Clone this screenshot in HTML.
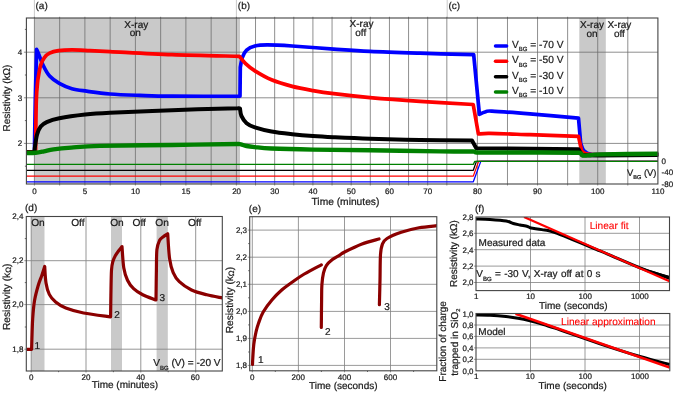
<!DOCTYPE html>
<html><head><meta charset="utf-8"><title>Figure</title>
<style>html,body{margin:0;padding:0;background:#fff}svg{display:block}text{stroke:#1a1a1a}text[fill]{stroke:#ff0000;stroke-width:.1px}</style></head>
<body>
<svg width="675" height="393" viewBox="0 0 675 393" font-family="Liberation Sans, Arial, sans-serif" font-size="10" fill="#1a1a1a" text-rendering="geometricPrecision" stroke-width=".22">
<rect width="675" height="393" fill="#fff"/>
<rect x="34.4" y="18" width="205.6" height="166" fill="#c9c9c9"/>
<rect x="579.3" y="18" width="26.5" height="166" fill="#c9c9c9"/>
<line x1="34.4" y1="0" x2="34.4" y2="18" stroke="#bbb" stroke-width=".8"/>
<line x1="236.4" y1="0" x2="236.4" y2="18" stroke="#bbb" stroke-width=".8"/>
<line x1="447.2" y1="0" x2="447.2" y2="18" stroke="#bbb" stroke-width=".8"/>
<path d="M34.40 16.8V185.5M59.65 16.8V185.5M84.90 16.8V185.5M110.15 16.8V185.5M135.40 16.8V185.5M160.65 16.8V185.5M185.90 16.8V185.5M211.15 16.8V185.5M236.40 16.8V185.5M255.53 16.8V185.5M274.66 16.8V185.5M293.79 16.8V185.5M312.92 16.8V185.5M332.05 16.8V185.5M351.18 16.8V185.5M370.31 16.8V185.5M389.44 16.8V185.5M408.57 16.8V185.5M427.70 16.8V185.5M446.83 16.8V185.5M477.40 16.8V185.5M507.48 16.8V185.5M537.56 16.8V185.5M567.64 16.8V185.5M597.72 16.8V185.5M627.80 16.8V185.5" stroke="#6a6a6a" stroke-width=".75" fill="none"/>
<path d="M23.9 52.2H657.9M23.9 97.8H657.9M23.9 143.4H657.9" stroke="#6a6a6a" stroke-width=".75" fill="none"/>
<path d="M24.9 29.4H26.4M24.9 75H26.4M24.9 120.6H26.4M24.9 166.2H26.4" stroke="#444" stroke-width=".8" fill="none"/>
<clipPath id="ct"><rect x="26.4" y="18" width="631.9" height="166"/></clipPath>
<g clip-path="url(#ct)" fill="none" stroke-linejoin="round" stroke-linecap="round">
<path transform="translate(0,0.4)" d="M26.40 152.00L34.30 152.00L34.40 152.00C34.55 143.33 34.93 117.17 35.30 100.00C35.67 82.83 36.38 57.50 36.60 49.00L36.60 49.00C36.93 49.75 37.53 50.90 38.60 53.50C39.67 56.10 41.17 60.90 43.00 64.60C44.83 68.30 46.88 72.63 49.60 75.70C52.32 78.77 55.58 80.90 59.30 83.00C63.02 85.10 67.33 87.00 71.90 88.30C76.47 89.60 80.35 89.92 86.70 90.80C93.05 91.68 101.12 92.90 110.00 93.60C118.88 94.30 129.67 94.63 140.00 95.00C150.33 95.37 155.35 95.67 172.00 95.80C188.65 95.93 228.58 95.80 239.90 95.80L240.00 95.80L240.30 67.00L240.30 67.00C240.65 65.33 241.35 59.88 242.40 57.00C243.45 54.12 244.52 51.60 246.60 49.70C248.68 47.80 251.45 46.47 254.90 45.60C258.35 44.73 261.08 44.50 267.30 44.50C273.52 44.50 281.13 44.90 292.20 45.60C303.27 46.30 320.73 47.80 333.70 48.70C346.67 49.60 355.62 50.32 370.00 51.00C384.38 51.68 402.73 52.25 420.00 52.80C437.27 53.35 464.67 54.05 473.60 54.30L473.70 54.30L479.40 113.90L479.40 113.90C480.33 113.52 482.92 112.13 485.00 111.60C487.08 111.07 485.00 110.38 491.90 110.70C499.40 111.02 515.57 112.32 530.00 113.50C544.43 114.68 570.42 117.08 578.50 117.80L578.50 117.80L580.70 143.00L580.70 143.00C581.08 144.00 582.12 147.50 583.00 149.00C583.88 150.50 584.90 151.25 586.00 152.00C587.10 152.75 587.27 153.12 589.60 153.50C591.93 153.88 589.60 154.22 600.00 154.30C611.38 154.38 648.25 154.05 657.90 154.00" stroke="#0000ff" stroke-width="3.7"/>
<path transform="translate(0,0.4)" d="M26.40 151.50L35.50 151.50L35.60 151.50C35.72 142.92 35.93 112.02 36.30 100.00C36.67 87.98 37.55 82.83 37.80 79.40L37.80 79.40C38.28 76.93 39.60 68.30 40.70 64.60C41.80 60.90 42.92 59.17 44.40 57.20C45.88 55.23 47.25 53.95 49.60 52.80C51.95 51.65 54.78 50.85 58.50 50.30C62.22 49.75 66.65 49.52 71.90 49.50C77.15 49.48 83.65 49.92 90.00 50.20C96.35 50.48 96.33 50.52 110.00 51.20C123.67 51.88 150.50 53.52 172.00 54.30C193.50 55.08 227.83 55.63 239.00 55.90L239.30 55.90C240.35 57.12 243.00 60.77 245.60 63.20C248.20 65.63 250.58 67.80 254.90 70.50C259.22 73.20 265.28 76.82 271.50 79.40C277.72 81.98 285.28 84.20 292.20 86.00C299.12 87.80 306.08 88.98 313.00 90.20C319.92 91.42 324.20 92.13 333.70 93.30C343.20 94.47 355.62 95.92 370.00 97.20C384.38 98.48 402.80 99.85 420.00 101.00C437.20 102.15 464.33 103.58 473.20 104.10L473.20 104.10L478.40 133.60L478.40 133.60C480.33 133.50 481.40 132.88 490.00 133.00C498.60 133.12 515.25 133.80 530.00 134.30C544.75 134.80 570.42 135.72 578.50 136.00L578.50 136.00L581.50 150.00L581.50 150.00C581.92 150.42 582.92 151.87 584.00 152.50C585.08 153.13 585.33 153.50 588.00 153.80C590.67 154.10 588.35 154.27 600.00 154.30C611.65 154.33 648.25 154.05 657.90 154.00" stroke="#ff0000" stroke-width="3.7"/>
<path transform="translate(0,0.2)" d="M26.40 152.00L34.50 152.00L34.50 152.00C34.55 151.30 34.50 150.73 34.80 147.80C35.22 144.87 36.02 137.98 37.00 134.40C37.98 130.82 39.08 128.38 40.70 126.30C42.32 124.22 43.60 123.27 46.70 121.90C49.80 120.53 52.88 119.35 59.30 118.10C65.72 116.85 76.75 115.32 85.20 114.40C93.65 113.48 95.53 113.33 110.00 112.60C124.47 111.87 150.67 110.77 172.00 110.00C193.33 109.23 226.67 108.28 238.00 108.00C240.00 107.72 239.67 108.25 240.00 108.30L240.00 108.30C240.23 109.53 240.30 113.25 241.40 115.70C242.50 118.15 244.35 121.08 246.60 123.00C248.85 124.92 250.75 125.82 254.90 127.20C259.05 128.58 265.28 130.17 271.50 131.30C277.72 132.43 285.28 133.23 292.20 134.00C299.12 134.77 306.08 135.38 313.00 135.90C319.92 136.42 324.20 136.65 333.70 137.10C343.20 137.55 355.62 138.15 370.00 138.60C384.38 139.05 403.00 139.50 420.00 139.80C437.00 140.10 463.33 140.30 472.00 140.40L472.00 140.40L476.30 148.00L476.30 148.00L578.50 149.00L578.50 149.00L582.00 155.00L582.00 155.00C585.00 155.03 587.35 155.22 600.00 155.20C612.65 155.18 648.25 154.95 657.90 154.90" stroke="#000" stroke-width="4"/>
<path transform="translate(0,0.2)" d="M26.40 152.80C27.93 152.77 32.67 152.87 35.60 152.60C38.53 152.33 41.02 151.77 44.00 151.20C46.98 150.63 48.95 149.83 53.50 149.20C58.05 148.57 63.55 147.98 71.30 147.40C79.05 146.82 83.22 146.13 100.00 145.70C116.78 145.27 149.00 145.12 172.00 144.80C195.00 144.48 226.50 143.90 238.00 143.80C241.00 143.70 239.57 143.87 241.00 144.20C242.43 144.53 244.28 145.35 246.60 145.80C248.92 146.25 250.75 146.48 254.90 146.90C259.05 147.32 261.82 147.88 271.50 148.30C281.18 148.72 296.58 149.12 313.00 149.40C329.42 149.68 348.83 149.70 370.00 150.00C391.17 150.30 422.83 150.98 440.00 151.20C457.17 151.42 466.83 151.12 473.00 151.30C477.00 151.48 473.00 152.10 477.00 152.30C494.58 152.50 560.83 152.00 578.50 152.50C583.00 153.00 581.08 154.88 583.00 155.30C584.92 155.72 587.17 155.18 590.00 155.00C592.83 154.82 590.00 154.43 600.00 154.20C611.32 153.97 648.25 153.70 657.90 153.60" stroke="#008000" stroke-width="4.4"/>
<path d="M26.4 181.8H473.3L480.8 161.4H657.9" stroke="#0000ff" stroke-width="1.3" stroke-linecap="butt"/>
<path d="M26.4 176.1H473.3L478.6 161.4H657.9" stroke="#ff0000" stroke-width="1.3" stroke-linecap="butt"/>
<path d="M26.4 170.3H473.3L476.4 161.4H657.9" stroke="#000" stroke-width="1.3" stroke-linecap="butt"/>
<path d="M26.4 164.4H473.3L474.8 161.4H657.9" stroke="#008000" stroke-width="1.3" stroke-linecap="butt"/>
</g>
<rect x="26.4" y="18" width="631.5" height="166" fill="none" stroke="#444" stroke-width="1.1"/>
<line x1="495.5" y1="46" x2="506.6" y2="46" stroke="#0000ff" stroke-width="3.5" stroke-linecap="round"/>
<text x="512" y="47.9" font-size="10.2" xml:space="preserve">V<tspan font-size="6" dy="3.4">BG</tspan><tspan dy="-3.4"> = -70 V</tspan></text>
<line x1="495.5" y1="61.3" x2="506.6" y2="61.3" stroke="#ff0000" stroke-width="3.5" stroke-linecap="round"/>
<text x="512" y="63.2" font-size="10.2" xml:space="preserve">V<tspan font-size="6" dy="3.4">BG</tspan><tspan dy="-3.4"> = -50 V</tspan></text>
<line x1="495.5" y1="76.7" x2="506.6" y2="76.7" stroke="#000" stroke-width="3.5" stroke-linecap="round"/>
<text x="512" y="78.6" font-size="10.2" xml:space="preserve">V<tspan font-size="6" dy="3.4">BG</tspan><tspan dy="-3.4"> = -30 V</tspan></text>
<line x1="495.5" y1="92" x2="506.6" y2="92" stroke="#008000" stroke-width="3.5" stroke-linecap="round"/>
<text x="512" y="93.9" font-size="10.2" xml:space="preserve">V<tspan font-size="6" dy="3.4">BG</tspan><tspan dy="-3.4"> = -10 V</tspan></text>
<text x="35.5" y="9.2">(a)</text><text x="237.8" y="9.2">(b)</text><text x="448.5" y="9">(c)</text>
<text text-anchor="middle"><tspan x="136.3" y="27.5">X-ray</tspan><tspan x="135.3" y="35.7">on</tspan></text>
<text text-anchor="middle"><tspan x="361.5" y="27.2">X-ray</tspan><tspan x="360.7" y="36.3">off</tspan></text>
<text text-anchor="middle"><tspan x="592" y="27.5">X-ray</tspan><tspan x="592" y="37.4">on</tspan></text>
<text text-anchor="middle"><tspan x="619.4" y="27.5">X-ray</tspan><tspan x="619.4" y="37.4">off</tspan></text>
<g font-size="8" text-anchor="middle">
<text x="34.4" y="194.1">0</text>
<text x="84.9" y="194.1">5</text>
<text x="135.4" y="194.1">10</text>
<text x="185.9" y="194.1">15</text>
<text x="236.6" y="194.1">20</text>
<text x="274.8" y="194.1">30</text>
<text x="313" y="194.1">40</text>
<text x="351.3" y="194.1">50</text>
<text x="389.5" y="194.1">60</text>
<text x="427.8" y="194.1">70</text>
<text x="477.5" y="194.1">80</text>
<text x="537.5" y="194.1">90</text>
<text x="597.7" y="194.1">100</text>
<text x="658" y="194.1">110</text>
</g>
<g font-size="8" text-anchor="end">
<text x="22.3" y="54.9">4</text>
<text x="22.3" y="100.5">3</text>
<text x="22.3" y="146.1">2</text>
</g>
<g font-size="8">
<text x="661.6" y="164.2">0</text>
<text x="661.6" y="175.4">-40</text>
<text x="661.6" y="186.5">-80</text>
</g>
<text x="627" y="176" font-size="9.4">V<tspan font-size="5.6" dy="3">BG</tspan><tspan dy="-3"> (V)</tspan></text>
<text x="311.5" y="204.5" font-size="10.24">Time (minutes)</text>
<text transform="translate(10.2,131.5) rotate(-90)">Resistivity (kΩ)</text>
<rect x="31.2" y="216.5" width="13.3" height="154.5" fill="#c9c9c9"/>
<rect x="111" y="216.5" width="11" height="154.5" fill="#c9c9c9"/>
<rect x="156.6" y="216.5" width="11.2" height="154.5" fill="#c9c9c9"/>
<path d="M31.2 216.5V372.5M86 216.5V372.5M140.8 216.5V372.5M195.7 216.5V372.5M24.3 260.7H222.3M24.3 304.6H222.3M24.3 349.2H222.3" stroke="#8a8a8a" stroke-width=".9" fill="none"/>
<path d="M24.8 238.6H26.3M24.8 282.6H26.3M24.8 327H26.3M58.6 371V372.2M113.4 371V372.2M168.2 371V372.2" stroke="#444" stroke-width=".8" fill="none"/>
<clipPath id="cd"><rect x="26.3" y="216.5" width="196" height="154.5"/></clipPath>
<path clip-path="url(#cd)" d="M26.50 349.30L31.50 349.30L31.60 349.30C31.65 347.58 31.72 344.12 31.90 339.00C32.08 333.88 32.27 324.97 32.70 318.60C33.13 312.23 33.58 306.32 34.50 300.80C35.42 295.28 36.98 289.73 38.20 285.50C39.42 281.27 40.72 278.57 41.80 275.40C42.88 272.23 44.22 267.98 44.70 266.50L44.70 266.50C44.92 269.25 45.23 278.35 46.00 283.00C46.77 287.65 47.70 291.23 49.30 294.40C50.90 297.57 52.85 299.73 55.60 302.00C58.35 304.27 61.13 306.17 65.80 308.00C70.47 309.83 76.15 311.53 83.60 313.00C91.05 314.47 106.02 316.17 110.50 316.80L110.60 316.80C110.65 313.17 110.75 302.80 110.90 295.00C111.05 287.20 111.15 275.67 111.50 270.00C111.85 264.33 112.37 263.37 113.00 261.00C113.63 258.63 114.38 257.47 115.30 255.80C116.22 254.13 117.38 252.53 118.50 251.00C119.62 249.47 121.42 247.33 122.00 246.60L122.00 246.60C122.30 250.17 122.88 262.40 123.80 268.00C124.72 273.60 125.87 276.75 127.50 280.20C129.13 283.65 131.07 286.27 133.60 288.70C136.13 291.13 139.00 292.92 142.70 294.80C146.40 296.68 153.62 299.13 155.80 300.00L156.00 300.00C156.07 295.00 156.25 278.38 156.40 270.00C156.55 261.62 156.40 254.62 156.90 249.70C157.42 244.78 158.48 242.62 159.50 240.50C160.52 238.38 161.63 238.12 163.00 237.00C164.37 235.88 166.92 234.33 167.70 233.80L167.70 233.80C168.02 237.97 168.68 252.33 169.60 258.80C170.52 265.27 171.58 268.78 173.20 272.60C174.82 276.42 176.25 278.80 179.30 281.70C182.35 284.60 186.92 287.82 191.50 290.00C196.08 292.18 201.67 293.48 206.80 294.80C211.93 296.12 219.72 297.38 222.30 297.90" stroke="#8b0000" stroke-width="3.2" fill="none" stroke-linejoin="round"/>
<rect x="26.3" y="216.5" width="196" height="154.5" fill="none" stroke="#444" stroke-width="1.1"/>
<text x="25" y="211">(d)</text>
<text x="31.2" y="225.6" font-size="10.2">On</text>
<text x="71.2" y="225.6" font-size="10.2">Off</text>
<text x="110.2" y="225.6" font-size="10.2">On</text>
<text x="132.5" y="225.6" font-size="10.2">Off</text>
<text x="155.3" y="225.6" font-size="10.2">On</text>
<text x="188" y="225.6" font-size="10.2">Off</text>
<text x="34.5" y="348.5" font-size="10">1</text><text x="114.2" y="317.6" font-size="10">2</text><text x="159.6" y="300.7" font-size="10">3</text>
<text x="153.3" y="366.3" font-size="10.1">V<tspan font-size="6" dy="3.4">BG</tspan><tspan dy="-3.4"> (V) = -20 V</tspan></text>
<g font-size="8" text-anchor="end">
<text x="23.4" y="219.2">2,4</text>
<text x="23.4" y="263.4">2,2</text>
<text x="23.4" y="307.3">2,0</text>
<text x="23.4" y="351.9">1,8</text>
</g><g font-size="8" text-anchor="middle">
<text x="31.2" y="380">0</text>
<text x="86" y="380">20</text>
<text x="140.6" y="380">40</text>
<text x="195.3" y="380">60</text>
</g>
<text x="91.7" y="388" font-size="10">Time (minutes)</text>
<text transform="translate(10.2,330) rotate(-90)" font-size="10.2">Resistivity (k<tspan font-size="7.8" dy="1">Ω</tspan><tspan dy="-1">)</tspan></text>
<path d="M252.3 216.7V372.3M298.4 216.7V372.3M344.5 216.7V372.3M390.5 216.7V372.3M247.7 230.1H436.8M247.7 257.2H436.8M247.7 284.3H436.8M247.7 311.4H436.8M247.7 338.4H436.8M247.7 365.4H436.8" stroke="#808080" stroke-width=".8" fill="none"/>
<path d="M248.2 243.6H249.7M248.2 270.7H249.7M248.2 297.8H249.7M248.2 324.9H249.7M248.2 352H249.7M275.3 370.8V372M321.4 370.8V372M367.5 370.8V372M413.6 370.8V372" stroke="#444" stroke-width=".8" fill="none"/>
<clipPath id="ce"><rect x="249.7" y="216.7" width="187.1" height="154.1"/></clipPath><g clip-path="url(#ce)">
<path d="M252.50 364.50C252.55 363.42 252.58 361.35 252.80 358.00C253.02 354.65 253.27 348.73 253.80 344.40C254.33 340.07 255.20 335.57 256.00 332.00C256.80 328.43 257.40 326.33 258.60 323.00C259.80 319.67 260.98 315.83 263.20 312.00C265.42 308.17 268.77 303.70 271.90 300.00C275.03 296.30 278.58 292.80 282.00 289.80C285.42 286.80 288.68 284.63 292.40 282.00C296.12 279.37 299.48 276.87 304.30 274.00C309.12 271.13 318.47 266.33 321.30 264.80" stroke="#8b0000" stroke-width="3.2" fill="none" stroke-linejoin="round" stroke-linecap="round"/>
<path d="M321.30 327.50C321.35 322.92 321.50 307.15 321.60 300.00C321.70 292.85 321.60 289.13 321.90 284.60C322.22 280.07 322.73 276.00 323.50 272.80C324.27 269.60 325.02 267.60 326.50 265.40C327.98 263.20 330.32 261.23 332.40 259.60C334.48 257.97 336.97 256.87 339.00 255.60C341.03 254.33 340.77 253.93 344.60 252.00C348.43 250.07 356.27 246.17 362.00 244.00C367.73 241.83 376.17 239.83 379.00 239.00" stroke="#8b0000" stroke-width="3.2" fill="none" stroke-linejoin="round" stroke-linecap="round"/>
<path d="M379.40 304.70C379.50 300.58 379.82 288.37 380.00 280.00C380.18 271.63 380.08 260.53 380.50 254.50C380.92 248.47 381.42 246.47 382.50 243.80C383.58 241.13 383.88 240.42 387.00 238.50C390.12 236.58 395.87 234.08 401.20 232.30C406.53 230.52 413.07 228.90 419.00 227.80C424.93 226.70 433.83 226.05 436.80 225.70" stroke="#8b0000" stroke-width="3.2" fill="none" stroke-linejoin="round" stroke-linecap="round"/>
</g>
<rect x="249.7" y="216.7" width="187.1" height="154.1" fill="none" stroke="#444" stroke-width="1.1"/>
<text x="248.8" y="212">(e)</text>
<text x="258" y="363" font-size="10">1</text><text x="325" y="334.6" font-size="10">2</text><text x="384.2" y="310" font-size="10">3</text>
<g font-size="8" text-anchor="end">
<text x="247" y="232.8">2,3</text>
<text x="247" y="259.9">2,2</text>
<text x="247" y="287">2,1</text>
<text x="247" y="314.1">2,0</text>
<text x="247" y="341.1">1,9</text>
<text x="247" y="368.1">1,8</text>
</g><g font-size="8" text-anchor="middle">
<text x="252.2" y="380">0</text>
<text x="298.3" y="380">200</text>
<text x="344.5" y="380">400</text>
<text x="390.5" y="380">600</text>
</g>
<text x="309" y="388.5" font-size="10">Time (seconds)</text>
<text transform="translate(233.4,333.3) rotate(-90)" font-size="10.2">Resistivity (k<tspan font-size="7.8" dy="1">Ω</tspan><tspan dy="-1">)</tspan></text>
<path d="M530.5 217V292.1M585 217V292.1M639.5 217V292.1M474 233.3H669.5M474 249.7H669.5M474 266.1H669.5M474 282.5H669.5" stroke="#808080" stroke-width=".8" fill="none"/>
<clipPath id="cf1"><rect x="476" y="217" width="193.5" height="73.6"/></clipPath>
<g clip-path="url(#cf1)" fill="none">
<path d="M476.00 219.00C478.33 219.08 484.97 219.17 490.00 219.50C495.03 219.83 502.32 220.33 506.20 221.00C510.08 221.67 511.00 222.83 513.30 223.50C515.60 224.17 517.62 224.50 520.00 225.00C522.38 225.50 525.77 226.00 527.60 226.50C529.43 227.00 528.63 227.48 531.00 228.00C533.37 228.52 537.80 228.83 541.80 229.60C545.80 230.37 545.30 229.05 555.00 232.60C564.70 236.15 585.17 244.77 600.00 250.90C614.83 257.03 632.42 264.97 644.00 269.40C655.58 273.83 665.25 276.15 669.50 277.50" stroke="#000" stroke-width="3"/>
<path d="M640 267L669.5 276.3V280L640 268.5z" fill="#000"/>
<path d="M524 217L669.5 281.3" stroke="#ff0000" stroke-width="2.2"/>
</g>
<rect x="476" y="217" width="193.5" height="73.6" fill="none" stroke="#444" stroke-width="1.1"/>
<text x="475" y="212">(f)</text>
<text x="478.6" y="246.3" font-size="10">Measured data</text>
<text x="589.7" y="228.5" font-size="10.15" fill="#ff0000">Linear fit</text>
<text x="476.3" y="277.3" font-size="10" word-spacing=".5">V<tspan font-size="6.1" dy="3.2">BG</tspan><tspan dy="-3.2"> = -30 V, X-ray off at 0 s</tspan></text>
<g font-size="7.9" text-anchor="end">
<text x="473.5" y="219.8">2,8</text>
<text x="473.5" y="236.1">2,6</text>
<text x="473.5" y="252.5">2,4</text>
<text x="473.5" y="268.9">2,2</text>
<text x="473.5" y="285.3">2,0</text>
</g><g font-size="8" text-anchor="middle">
<text x="476.3" y="299">1</text>
<text x="530.6" y="299">10</text>
<text x="585.3" y="299">100</text>
<text x="639.8" y="299">1000</text>
</g>
<text x="539" y="309.3" font-size="10">Time (seconds)</text>
<text transform="translate(456.7,287) rotate(-90)">Resistivity (kΩ)</text>
<path d="M530.5 313.5V372.3M585 313.5V372.3M639.5 313.5V372.3M474 325H669.8M474 336.4H669.8M474 347.9H669.8M474 359.3H669.8" stroke="#808080" stroke-width=".8" fill="none"/>
<clipPath id="cf2"><rect x="476" y="313.5" width="193.8" height="57.3"/></clipPath>
<g clip-path="url(#cf2)" fill="none">
<path d="M476.00 315.00C478.33 315.05 485.00 315.03 490.00 315.30C495.00 315.57 501.33 316.10 506.00 316.60C510.67 317.10 514.00 317.60 518.00 318.30C522.00 319.00 526.00 319.85 530.00 320.80C534.00 321.75 537.83 322.77 542.00 324.00C546.17 325.23 545.33 324.90 555.00 328.20C564.67 331.50 585.83 339.08 600.00 343.80C614.17 348.52 628.37 353.03 640.00 356.50C651.63 359.97 664.83 363.25 669.80 364.60" stroke="#000" stroke-width="3"/>
<path d="M515.5 313.7L669.8 367.5" stroke="#ff0000" stroke-width="2.5"/>
</g>
<rect x="476" y="313.5" width="193.8" height="57.3" fill="none" stroke="#444" stroke-width="1.1"/>
<text x="478.3" y="335" font-size="10">Model</text>
<text x="561" y="324.8" font-size="10.13" fill="#ff0000">Linear approximation</text>
<g font-size="7.9" text-anchor="end">
<text x="473.5" y="316.5">1,0</text>
<text x="473.5" y="328">0,8</text>
<text x="473.5" y="339.4">0,6</text>
<text x="473.5" y="350.9">0,4</text>
<text x="473.5" y="362.3">0,2</text>
<text x="473.5" y="373.8">0,0</text>
</g><g font-size="8" text-anchor="middle">
<text x="476.3" y="379.4">1</text>
<text x="530.2" y="379.4">10</text>
<text x="585.3" y="379.4">100</text>
<text x="640" y="379.4">1000</text>
</g>
<text x="538.4" y="388.8" font-size="10">Time (seconds)</text>
<text transform="translate(445.6,381.7) rotate(-90)">Fraction of charge</text>
<text transform="translate(457.5,375.7) rotate(-90)">trapped in SiO<tspan font-size="5.6" dy="2.5">2</tspan></text>
</svg>
</body></html>
